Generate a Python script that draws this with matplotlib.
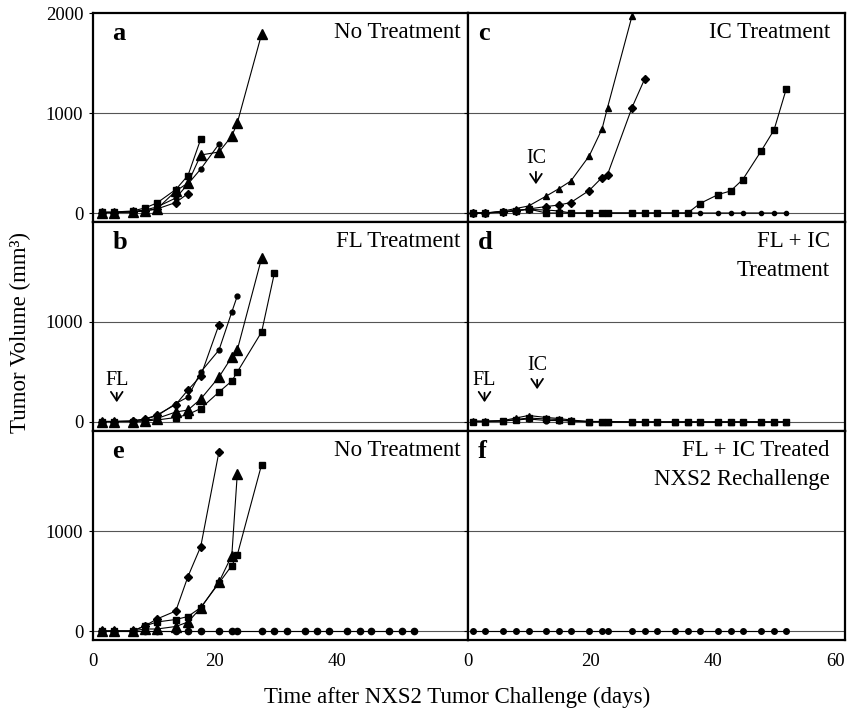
import matplotlib
matplotlib.use('Agg')
import matplotlib.pyplot as plt

plt.rcParams['font.family'] = ['Liberation Serif', 'DejaVu Serif']

# measurement days
days_left = [1.4, 3.4, 6.5, 8.5, 10.5, 13.6, 15.6, 17.7, 20.7, 22.8, 23.7, 27.7, 29.8,
             31.8, 34.8, 36.8, 38.8, 41.8, 43.8, 45.7, 48.7, 50.7, 52.8]
days_right = [0.8, 2.8, 5.8, 7.8, 9.9, 12.8, 14.9, 16.8, 19.8, 21.9, 22.8, 26.8, 28.9,
              30.9, 33.9, 35.9, 37.9, 40.9, 42.9, 44.9, 47.9, 50.0, 52.0]

# a: no treatment
a_tri = [5, 5, 10, 20, 40, 220, 300, 580, 610, 770, 900, 1790]
a_square = [10, 10, 20, 50, 100, 235, 375, 740]
a_circle = [5, 5, 15, 30, 60, 150, 290, 440, 690]
a_diamond = [5, 5, 10, 25, 40, 105, 195]

# b: FL treatment
b_tri = [5, 5, 5, 15, 35, 100, 120, 230, 450, 650, 720, 1640]
b_square = [5, 5, 5, 10, 20, 45, 75, 135, 300, 410, 500, 900, 1490]
b_circle = [5, 5, 10, 30, 60, 185, 250, 500, 720, 1100, 1260]
b_diamond = [5, 5, 10, 30, 70, 175, 320, 460, 975]

# c: IC treatment
c_tri = [0, 0, 20, 45, 70, 170, 245, 320, 570, 840, 1055, 1970]
c_diamond = [0, 0, 15, 25, 40, 65, 80, 105, 225, 355, 385, 1055, 1345]
c_square = [0, 0, 10, 20, 40, 0, 0, 0, 0, 0, 0, 0, 0, 0, 0, 0, 95, 185, 220, 335, 620, 830, 1240]
c_circle = [0, 0, 10, 25, 35, 30, 20, 0, 0, 0, 0, 0, 0, 0, 0, 0, 0, 0, 0, 0, 0, 0, 0]

# d: FL + IC treatment
d_tri = [10, 10, 15, 40, 65, 45, 35, 20, 5, 5, 5, 0, 0, 0, 0, 0, 0, 0, 0, 0, 0, 0, 0]
d_square = [5, 5, 10, 25, 40, 30, 25, 10, 5, 5, 0, 0, 0, 0, 0, 0, 0, 0, 0, 0, 0, 0, 0]
d_circle = [5, 5, 10, 20, 30, 15, 15, 10, 0, 0, 0, 0, 0, 0, 0, 0, 0, 0, 0, 0, 0, 0, 0]

# e: no treatment
e_diamond = [0, 0, 0, 50, 120, 200, 545, 845, 1795]
e_tri = [0, 0, 0, 20, 20, 45, 90, 230, 490, 755, 1570]
e_square = [0, 0, 0, 50, 90, 115, 145, 235, 480, 655, 760, 1665]
e_circle = [0] * 23

# f: FL + IC treated, NXS2 rechallenge
f_circle = [0] * 23

W, H = 857, 710
fig = plt.figure(figsize=(W / 100, H / 100), dpi=100)


def make_axes(x0, y0, w, h):
    ax = fig.add_axes([x0 / W, 1 - (y0 + h) / H, w / W, h / H])
    ax.set_xlim(0, 61.6)
    ax.set_ylim(-90, 2000)
    for s in ax.spines.values():
        s.set_linewidth(1.6)
    ax.axhline(0, color='#555555', lw=0.8, zorder=1)
    ax.axhline(1000, color='#555555', lw=0.8, zorder=1)
    ax.tick_params(axis='x', length=0, labelsize=13.5, pad=9)
    ax.tick_params(axis='y', direction='out', length=3, width=0.8, labelsize=13.5, pad=4)
    return ax


def series(ax, days, vals, marker, ms):
    ax.plot(days[:len(vals)], vals, color='k', lw=0.8, marker=marker, ms=ms,
            mec='k', mfc='k', clip_on=False, zorder=3)


def titles(ax, lines, xr):
    for i, t in enumerate(lines):
        ax.text(xr, 1 - (25 + 29 * i) / 209, t, transform=ax.transAxes,
                ha='right', va='baseline', fontsize=16.5)


def label(ax, s, xl):
    ax.text(xl, 1 - 27 / 209, s, transform=ax.transAxes, ha='left',
            va='baseline', fontsize=19, fontweight='bold')


def arrow(ax, s, day, txt_y, tail, tip):
    ax.text(day, txt_y, s, ha='center', va='baseline', fontsize=14.5)
    ax.annotate('', xy=(day, tip), xytext=(day, tail),
                arrowprops=dict(arrowstyle='->,head_length=0.45,head_width=0.3',
                                color='k', lw=1.3, mutation_scale=14))


rows = [13, 222, 431]
ax_a = make_axes(93, rows[0], 375, 209)
ax_c = make_axes(468, rows[0], 377, 209)
ax_b = make_axes(93, rows[1], 375, 209)
ax_d = make_axes(468, rows[1], 377, 209)
ax_e = make_axes(93, rows[2], 375, 209)
ax_f = make_axes(468, rows[2], 377, 209)

for ax in [ax_a, ax_b, ax_c, ax_d]:
    ax.set_xticks([])
ax_e.set_xticks([0, 20, 40])
ax_f.set_xticks([0, 20, 40, 60])

ax_a.set_yticks([0, 1000, 2000])
ax_b.set_yticks([0, 1000])
ax_e.set_yticks([0, 1000])
for ax in [ax_c, ax_d, ax_f]:
    ax.set_yticks([0, 1000])
    ax.set_yticklabels([])

# panel a
series(ax_a, days_left, a_square, 's', 4.5)
series(ax_a, days_left, a_circle, 'o', 3.5)
series(ax_a, days_left, a_diamond, 'D', 4)
series(ax_a, days_left, a_tri, '^', 6.5)
label(ax_a, 'a', 0.052)
titles(ax_a, ['No Treatment'], 0.979)

# panel b
series(ax_b, days_left, b_square, 's', 4.5)
series(ax_b, days_left, b_circle, 'o', 3.5)
series(ax_b, days_left, b_diamond, 'D', 4)
series(ax_b, days_left, b_tri, '^', 6.5)
label(ax_b, 'b', 0.052)
titles(ax_b, ['FL Treatment'], 0.979)
arrow(ax_b, 'FL', 3.9, 370, 320, 170)

# panel c
series(ax_c, days_right, c_square, 's', 4)
series(ax_c, days_right, c_circle, 'o', 3)
series(ax_c, days_right, c_diamond, 'D', 4)
series(ax_c, days_right, c_tri, '^', 5)
label(ax_c, 'c', 0.027)
titles(ax_c, ['IC Treatment'], 0.96)
arrow(ax_c, 'IC', 11.1, 500, 440, 260)

# panel d
series(ax_d, days_right, d_square, 's', 4)
series(ax_d, days_right, d_circle, 'o', 3.5)
series(ax_d, days_right, d_tri, '^', 5)
label(ax_d, 'd', 0.027)
titles(ax_d, ['FL + IC', 'Treatment'], 0.96)
arrow(ax_d, 'FL', 2.7, 370, 320, 170)
arrow(ax_d, 'IC', 11.3, 520, 450, 300)

# panel e
series(ax_e, days_left, e_circle, 'o', 4.5)
series(ax_e, days_left, e_square, 's', 4.5)
series(ax_e, days_left, e_diamond, 'D', 4.5)
series(ax_e, days_left, e_tri, '^', 6.5)
label(ax_e, 'e', 0.052)
titles(ax_e, ['No Treatment'], 0.979)

# panel f
series(ax_f, days_right, f_circle, 'o', 4)
label(ax_f, 'f', 0.027)
titles(ax_f, ['FL + IC Treated', 'NXS2 Rechallenge'], 0.96)

fig.text(20 / W, 1 - 332 / H, 'Tumor Volume (mm³)', rotation=90,
         ha='center', va='center', fontsize=16.5)
fig.text(457 / W, 1 - 703 / H, 'Time after NXS2 Tumor Challenge (days)',
         ha='center', va='baseline', fontsize=16.5)

fig.savefig('out.png', dpi=100)
